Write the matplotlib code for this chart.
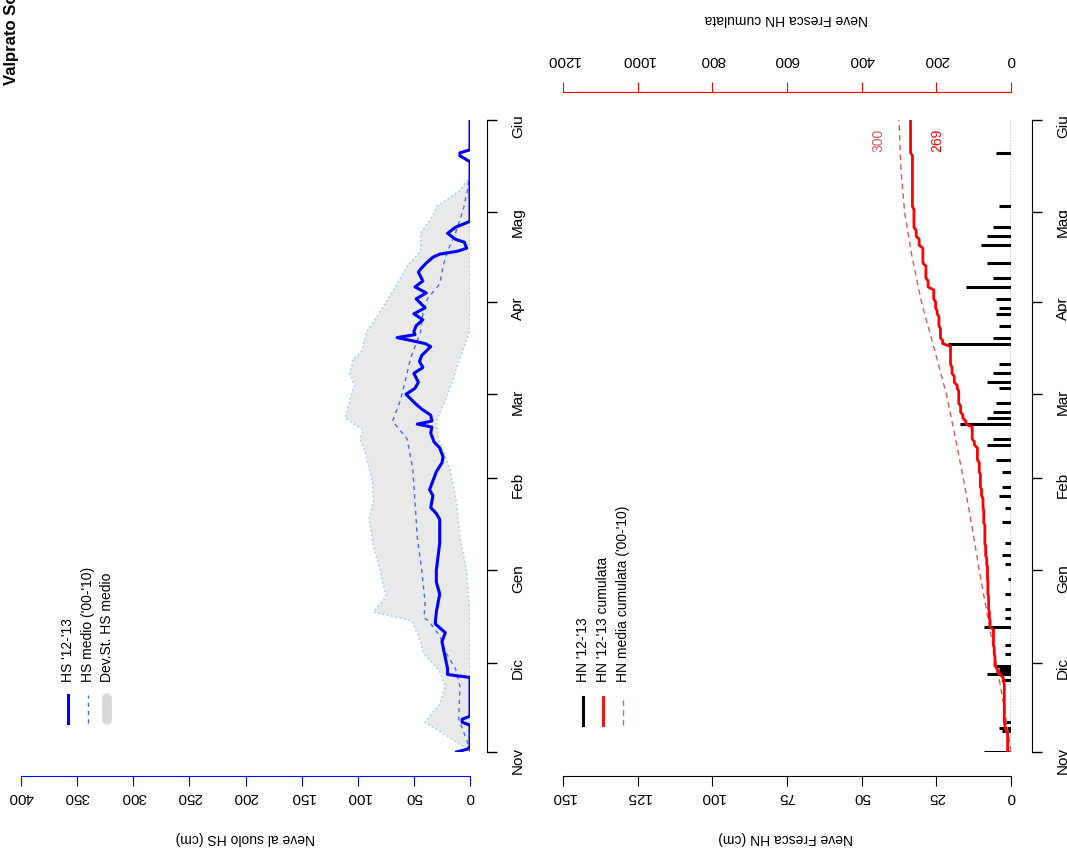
import numpy as np
import matplotlib
matplotlib.use("Agg")
import matplotlib.pyplot as plt
from matplotlib.lines import Line2D

plt.rcParams['font.family'] = ['Liberation Sans', 'DejaVu Sans']

# ---------------- data ----------------
months = ['Nov', 'Dic', 'Gen', 'Feb', 'Mar', 'Apr', 'Mag', 'Giu']
month_days = [0, 30, 61, 92, 120, 151, 181, 212]   # days since 1 Nov 2012

# snow depth HS 2012-13 (day, cm)
hs_days = [0, 1, 2, 9, 10, 11, 12, 25, 26, 28, 37, 40, 43, 47, 53, 57, 61,
           67, 70, 78, 80, 82, 86, 88, 94, 97, 99, 102, 104, 107, 109, 110,
           111, 113, 115, 117, 120, 122, 124, 127, 129, 131, 133, 136, 137,
           138, 139, 140, 141, 143, 145, 147, 149, 152, 154, 156, 158, 161,
           162, 164, 166, 167, 168, 169, 171, 172, 174, 176, 178, 198, 200,
           201, 202, 212]
hs_vals = [12, 2, 0, 0, 7, 7, 0, 0, 20, 20, 25, 22, 31, 30, 27, 30, 30,
           28, 27, 27, 30, 35, 33, 36, 30, 25, 24, 27, 32, 35, 34, 47,
           34, 35, 43, 49, 57, 49, 46, 50, 42, 45, 43, 35, 40,
           52, 65, 49, 50, 48, 42, 50, 40, 48, 39, 49, 42, 46,
           44, 39, 33, 27, 11, 3, 5, 13, 20, 13, 0, 0, 9,
           9, 0, 0]

# mean HS 2000-2010
mean_days = [0, 2, 11, 22, 28, 33, 39, 44, 45, 50, 61, 72, 84, 95, 105, 111,
             118, 124, 132, 141, 147, 152, 157, 163, 168, 174, 182, 189, 192]
mean_vals = [0, 1, 10, 9, 13, 21, 27, 37, 41, 40, 43, 47, 49, 51, 56, 69,
             62, 58, 53, 44, 42, 38, 27, 24, 20, 13, 6, 2, 1]

# mean + std dev
hi_days = [1, 6, 10, 16, 22, 27, 33, 39, 44, 47, 52, 61, 69, 78, 84, 91, 100,
           105, 108, 111, 112, 118, 123, 127, 132, 134, 141, 146, 152, 157,
           163, 168, 174, 180, 183, 188, 192]
hi_vals = [3, 23, 40, 27, 22, 27, 41, 46, 52, 86, 75, 80, 86, 90, 86, 87, 93,
           98, 95, 107, 111, 107, 103, 107, 104, 97, 92, 83, 73, 65,
           56, 44, 44, 33, 30, 10, 2]
# mean - std dev (floored at zero)
lo_days = [0, 48, 50, 61, 72, 84, 95, 105, 111, 118, 124, 131, 137, 142, 192]
lo_vals = [0, 0, 1, 3, 9, 12, 18, 28, 30, 22, 16, 10, 4, 0, 0]

# new snow HN 2012-13 (day, cm)
hn_days = [0, 7, 8, 10, 24, 26, 27, 28, 29,
           33, 36, 42, 45, 48, 53, 58,
           63, 66, 70, 77, 82, 86, 89,
           94, 98, 103, 105, 110, 112, 114, 117,
           122, 124, 127, 130, 137, 139, 143, 147, 149,
           152, 156, 159, 164, 170, 173,
           176, 183, 201]
hn_vals = [9, 3, 4, 2, 3, 8, 5, 4, 5,
           2, 2, 9, 2, 2, 2, 1,
           2, 3, 2, 3, 2, 4, 3,
           3, 5, 8, 6, 17, 8, 6, 5,
           4, 8, 6, 4, 21, 6, 4, 5, 4,
           5, 15, 6, 8, 10, 8,
           6, 4, 5]

# mean cumulative HN 2000-2010
media_days = [0, 15, 30, 45, 61, 76, 92, 106, 120, 135, 151, 166, 181, 196, 212]
media_vals = [0, 18, 40, 62, 85, 105, 128, 150, 173, 205, 240, 265, 285, 295, 300]

# ---------------- figure ----------------
W, H = 1067, 852
PT = 0.72  # points per pixel at 100 dpi
fig = plt.figure(figsize=(W / 100, H / 100), dpi=100)


def fx(x):
    return x / W


def fy(y):
    return 1 - y / H


Y_TOP, Y_BOT = 120, 752
FS = 10       # titles and legend
TFS = 11      # tick labels


def base_axes(x0, x1):
    ax = fig.add_axes([fx(x0), fy(Y_BOT), (x1 - x0) / W, (Y_BOT - Y_TOP) / H])
    ax.patch.set_visible(False)
    ax.set_ylim(0, 212)
    for s in ('top', 'left'):
        ax.spines[s].set_visible(False)
    ax.yaxis.tick_right()
    ax.set_yticks(month_days, months)
    ax.spines['right'].set_bounds(0, 212)
    ax.tick_params(axis='y', direction='out', length=10 * PT, width=1,
                   labelsize=TFS, labelrotation=90, pad=10)
    for lab in ax.get_yticklabels():
        lab.set_verticalalignment('center')
    return ax


# ---- left panel: snow depth ----
ax1 = base_axes(21, 470)
ax1.set_xlim(400, 0)
ax1.spines['right'].set_position(('outward', 17 * PT))
ax1.spines['bottom'].set_position(('outward', 24 * PT))
ax1.spines['bottom'].set_bounds(0, 400)
ax1.spines['bottom'].set_color('blue')
ax1.set_xticks(np.arange(0, 401, 50))
ax1.tick_params(axis='x', direction='out', length=10 * PT, color='blue',
                labelcolor='black', labelsize=TFS, labelrotation=180, pad=3)

band_x = np.concatenate([hi_vals, lo_vals[::-1]])
band_y = np.concatenate([hi_days, lo_days[::-1]])
ax1.fill(band_x, band_y, color='#e9e9e9', lw=0, zorder=1)
ax1.plot(hi_vals, hi_days, color='#9dd3f7', ls=':', lw=1.2, zorder=2)
ax1.plot(lo_vals, lo_days, color='#9dd3f7', ls=':', lw=1.2, zorder=2)
ax1.plot(mean_vals, mean_days, color='#4a6cf0', ls=(0, (3, 3)), lw=1, zorder=3)
ax1.plot(hs_vals, hs_days, color='#0000ff', lw=2.2, zorder=4)

# ---- right panel: new snow ----
ax2 = base_axes(563, 1011)
ax2.set_xlim(150, 0)
ax2.spines['right'].set_position(('outward', 21 * PT))
ax2.spines['bottom'].set_position(('outward', 24 * PT))
ax2.spines['bottom'].set_bounds(0, 150)
ax2.set_xticks(np.arange(0, 151, 25))
ax2.tick_params(axis='x', direction='out', length=10 * PT, labelsize=TFS,
                labelrotation=180, pad=3)

ax2.axvline(0, color='black', ls=(0, (1, 1)), lw=1, zorder=1)
ax2.hlines(hn_days, 0, hn_vals, color='black', lw=2.2, zorder=3)

hn_daily = np.zeros(213)
hn_daily[hn_days] = hn_vals
hn_cum = np.cumsum(hn_daily)

ax3 = ax2.twiny()
ax3.patch.set_visible(False)
ax3.set_xlim(1200, 0)
for s in ('bottom', 'left', 'right'):
    ax3.spines[s].set_visible(False)
ax3.spines['top'].set_position(('outward', 28 * PT))
ax3.spines['top'].set_bounds(0, 1200)
ax3.spines['top'].set_color('red')
ax3.set_xticks(np.arange(0, 1201, 200))
ax3.tick_params(axis='x', direction='out', length=10 * PT, color='red',
                labelcolor='black', labelsize=TFS, labelrotation=180, pad=11)
ax3.plot(media_vals, media_days, color='#e05a5a', ls=(0, (4, 3)), lw=1, zorder=2)
ax3.plot(hn_cum, np.arange(213), color='#ff0000', lw=2, zorder=4)
ax3.annotate(f'{int(hn_cum[-1])}', xy=(hn_cum[-1], 205), xytext=(27, 0),
             textcoords='offset pixels', rotation=90, color='#ff0000',
             fontsize=FS, ha='center', va='center')
ax3.annotate(f'{media_vals[-1]}', xy=(media_vals[-1], 205), xytext=(-21, 0),
             textcoords='offset pixels', rotation=90, color='#e05a5a',
             fontsize=FS, ha='center', va='center')

# ---- axis titles ----
fig.text(fx(245), fy(838), 'Neve al suolo HS (cm)', rotation=180,
         ha='center', va='center', fontsize=FS)
fig.text(fx(786), fy(838), 'Neve Fresca HN (cm)', rotation=180,
         ha='center', va='center', fontsize=FS)
fig.text(fx(786), fy(19), 'Neve Fresca HN cumulata', rotation=180,
         ha='center', va='center', fontsize=FS)

# ---- title ----
fig.text(fx(12), fy(85), 'Valprato Soana - Pianprato 1555m', rotation=90,
         ha='center', va='bottom', fontsize=12, fontweight='bold')

# ---- legends ----
def leg_line(x, y0, y1, **kw):
    fig.add_artist(Line2D([fx(x), fx(x)], [fy(y0), fy(y1)],
                          transform=fig.transFigure, **kw))


def leg_text(x, s):
    fig.text(fx(x), fy(682), s, rotation=90, ha='center', va='bottom',
             fontsize=FS)


leg_line(68, 723, 695, color='#0000ff', lw=2.2)
leg_line(88, 723, 695, color='#4a6cf0', lw=1, ls=(0, (3, 3)))
leg_line(107, 720, 698, color='#d9d9d9', lw=7, solid_capstyle='round')
leg_text(68, "HS '12-'13")
leg_text(88, "HS medio ('00-'10)")
leg_text(107, 'Dev.St. HS medio')

leg_line(583, 725, 697, color='black', lw=2.2)
leg_line(603, 725, 697, color='#ff0000', lw=2)
leg_line(623, 725, 697, color='#e05a5a', lw=1, ls=(0, (4, 3)))
leg_text(583, "HN '12-'13")
leg_text(603, "HN '12-'13 cumulata")
leg_text(623, "HN media cumulata ('00-'10)")

fig.savefig('out.png', dpi=100)
